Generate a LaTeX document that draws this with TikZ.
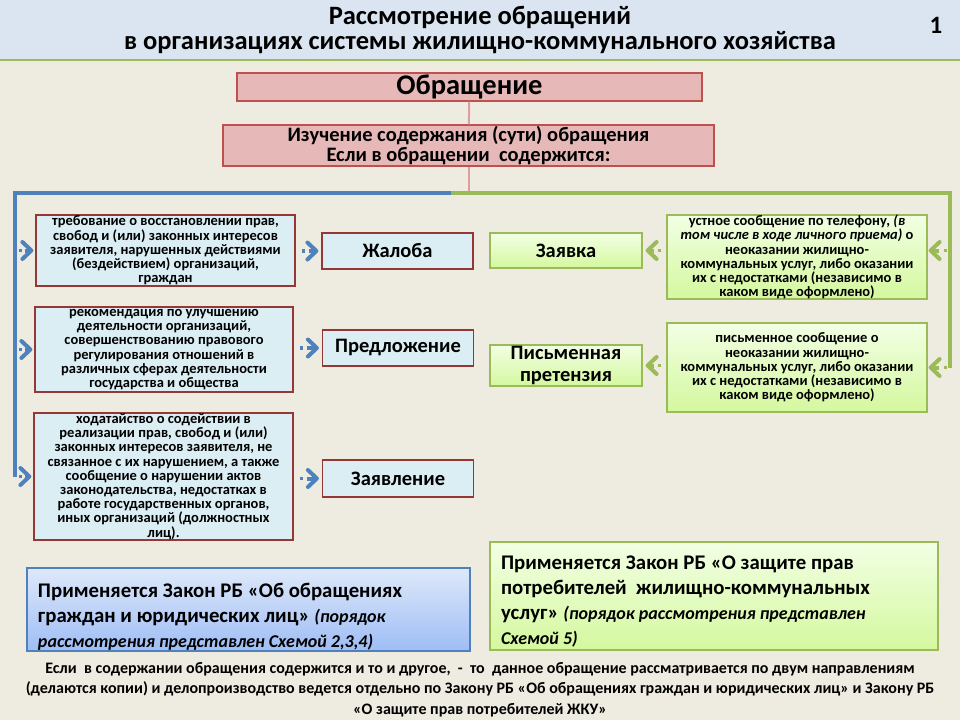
\documentclass[tikz,border=0pt]{standalone}
\usepackage{fontspec}
\setmainfont{Carlito}
\usetikzlibrary{arrows.meta,calc}
\definecolor{hcsbg}{RGB}{238,236,225}
\definecolor{hcshead}{RGB}{219,229,241}
\definecolor{hcsblue}{RGB}{79,129,189}
\definecolor{hcsgreen}{RGB}{155,187,89}
\definecolor{hcspink}{RGB}{230,185,184}
\definecolor{hcsred}{RGB}{192,80,77}
\definecolor{hcsdarkred}{RGB}{149,55,53}
\definecolor{hcsaqua}{RGB}{219,238,244}
\definecolor{hcslime1}{RGB}{242,255,228}
\definecolor{hcslime2}{RGB}{212,248,158}
\definecolor{hcssky1}{RGB}{222,233,250}
\definecolor{hcssky2}{RGB}{158,189,245}
\newcommand{\lawnotefont}{\fontsize{18bp}{25bp}\selectfont\itshape}
\tikzset{
  pinkbox/.style={draw=hcsred,line width=1.2bp,fill=hcspink,align=flush center,inner sep=0pt},
  descbox/.style={draw=hcsdarkred,line width=1.2bp,fill=hcsaqua,align=flush center,inner sep=0pt,
    font=\fontsize{14.5bp}{14.2bp}\selectfont\bfseries},
  kindbox/.style={draw=hcsdarkred,line width=1.2bp,fill=hcsaqua,align=flush center,inner sep=0pt,
    minimum width=151bp,font=\fontsize{20.5bp}{22bp}\selectfont\bfseries},
  limebox/.style={draw=hcsgreen,line width=1.2bp,top color=hcslime1,bottom color=hcslime2,
    align=flush center,inner sep=0pt},
  lawbox/.style={line width=1.2bp,align=flush left,inner xsep=11bp,inner ysep=0pt,
    font=\fontsize{20.8bp}{25bp}\selectfont\bfseries},
  chevtip/.style={-{Straight Barb[length=9bp,width=17bp,line width=4bp,round]}},
  bluedot/.style={hcsblue,line width=3.5bp,dash pattern=on 3bp off 80bp},
  bluechev/.style={hcsblue,line width=4bp,chevtip},
  greendot/.style={hcsgreen,line width=3.5bp,dash pattern=on 3bp off 80bp},
  greenchev/.style={hcsgreen,line width=4bp,chevtip},
  trunk/.style={line width=4bp,line join=miter}
}
\begin{document}
\begin{tikzpicture}[x=1bp,y=-1bp]
  \useasboundingbox (0,0) rectangle (960,720);
  \fill[hcsbg] (0,0) rectangle (960,720);
  \fill[hcshead] (0,0) rectangle (960,60);
  \draw[hcsgreen,line width=2bp] (0,60) -- (960,60);
  \node[align=flush center,font=\fontsize{26.5bp}{24.5bp}\selectfont\bfseries] (title) at (480,30)
    {Рассмотрение обращений\\в организациях системы жилищно-коммунального хозяйства};
  \node[font=\fontsize{25bp}{25bp}\selectfont\bfseries] (pnum) at (936,25) {1};

  % top of the scheme
  \node[pinkbox,minimum width=465bp,minimum height=28bp,font=\fontsize{28.5bp}{28bp}\selectfont\bfseries]
    (obr) at (469.5,87) {Обращение};
  \node[pinkbox,minimum width=491bp,minimum height=41bp,font=\fontsize{20.5bp}{20bp}\selectfont\bfseries]
    (izu) at (468.5,145.5) {Изучение содержания (сути) обращения\\Если в обращении\ \ содержится:};
  \coordinate (fork) at (451,193);
  \coordinate (ltop) at (15,193);
  \coordinate (rtop) at (950,193);
  \draw[hcsred!55,line width=2bp] (obr) -- (izu);
  \draw[hcsred!55,line width=2bp] (izu.south) -- (izu.south |- fork);

  % left branch
  \node[descbox,minimum width=259bp,minimum height=71bp] (lbox1) at (165.5,250.5)
    {требование о восстановлении прав,\\свобод и (или) законных интересов\\заявителя, нарушенных действиями\\(бездействием) организаций,\\граждан};
  \node[descbox,minimum width=258bp,minimum height=85bp] (lbox2) at (164,349.5)
    {рекомендация по улучшению\\деятельности организаций,\\совершенствованию правового\\регулирования отношений в\\различных сферах деятельности\\государства и общества};
  \node[descbox,minimum width=259bp,minimum height=127bp] (lbox3) at (163.5,476.5)
    {ходатайство о содействии в\\реализации прав, свобод и (или)\\законных интересов заявителя, не\\связанное с их нарушением, а также\\сообщение о нарушении актов\\законодательства, недостатках в\\работе государственных органов,\\иных организаций (должностных\\лиц).};
  \node[kindbox,minimum height=36bp] (zhal) at (397.5,251) {Жалоба};
  \node[kindbox,minimum height=36bp] (pred) at (398,348) {Предложение};
  \node[kindbox,minimum height=37bp] (zayavl) at (398,478.5) {Заявление};

  % right branch
  \node[limebox,minimum width=152bp,minimum height=35bp,font=\fontsize{20.5bp}{22bp}\selectfont\bfseries]
    (zayavka) at (566,250.5) {Заявка};
  \node[limebox,minimum width=152bp,minimum height=41bp,font=\fontsize{20.5bp}{22bp}\selectfont\bfseries]
    (pret) at (566,365.5) {Письменная\\претензия};
  \node[limebox,minimum width=260bp,minimum height=84bp,font=\fontsize{14.5bp}{14.2bp}\selectfont\bfseries]
    (rbox1) at (797,257) {устное сообщение по телефону, \textit{(в}\\\textit{том числе в ходе личного приема)} о\\неоказании жилищно-\\коммунальных услуг, либо оказании\\их с недостатками (независимо в\\каком виде оформлено)};
  \node[limebox,minimum width=260bp,minimum height=89bp,font=\fontsize{14.5bp}{14.2bp}\selectfont\bfseries]
    (rbox2) at (797,367.5) {письменное сообщение о\\неоказании жилищно-\\коммунальных услуг, либо оказании\\их с недостатками (независимо в\\каком виде оформлено)};

  % trunks and chevrons
  \draw[hcsblue,trunk] (fork) -- (ltop) -- (ltop |- lbox3.west);
  \draw[hcsgreen,trunk] (fork) -- (rtop) -- (rtop |- rbox2.east);
  \foreach \b in {lbox1,lbox2,lbox3}{
    \draw[bluedot,shorten <=4bp] (ltop |- \b.west) -- (\b.west);
    \draw[bluechev,shorten <=10bp,shorten >=2bp] (ltop |- \b.west) -- (\b.west);
  }
  \foreach \a/\b in {lbox1/zhal,lbox2/pred,lbox3/zayavl}{
    \draw[bluedot,shorten <=6bp] (\b.west -| \a.east) -- (\b.west);
    \draw[bluechev,shorten <=13bp,shorten >=3bp] (\b.west -| \a.east) -- (\b.west);
  }
  \foreach \a/\b in {zayavka/rbox1,rbox2/rbox2}{
    \draw[greendot,shorten <=3bp] (rtop |- \a.east) -- (\a.east -| \b.east);
    \draw[greenchev,shorten <=11bp,shorten >=1bp] (rtop |- \a.east) -- (\a.east -| \b.east);
  }
  \foreach \a/\b in {zayavka/rbox1,pret/rbox2}{
    \draw[greendot,shorten <=5bp] (\a.east -| \b.west) -- (\a.east);
    \draw[greenchev,shorten <=12bp,shorten >=3bp] (\a.east -| \b.west) -- (\a.east);
  }

  % laws
  \node[lawbox,draw=hcsblue,top color=hcssky1,bottom color=hcssky2,text width=421bp,minimum height=83bp]
    (law1) at (248.5,609.5) {\rule{0pt}{29bp}Применяется Закон РБ «Об обращениях\\граждан и юридических лиц» {\lawnotefont(порядок}\\{\lawnotefont рассмотрения представлен Схемой 2,3,4)}};
  \node[lawbox,draw=hcsgreen,top color=hcslime1,bottom color=hcslime2,text width=426bp,minimum height=108bp]
    (law2) at (714,596) {\rule{0pt}{25bp}Применяется Закон РБ «О защите прав\\потребителей\ \ жилищно-коммунальных\\услуг» {\lawnotefont(порядок рассмотрения представлен}\\{\lawnotefont Схемой 5)}};
  \node[align=flush center,font=\fontsize{16bp}{20.5bp}\selectfont\bfseries] (note) at (480,689.5)
    {Если\ \ в содержании обращения содержится и то и другое,\ \ -\ \ то\ \ данное обращение рассматривается по двум направлениям\\(делаются копии) и делопроизводство ведется отдельно по Закону РБ «Об обращениях граждан и юридических лиц» и Закону РБ\\«О защите прав потребителей ЖКУ»};
\end{tikzpicture}
\end{document}
